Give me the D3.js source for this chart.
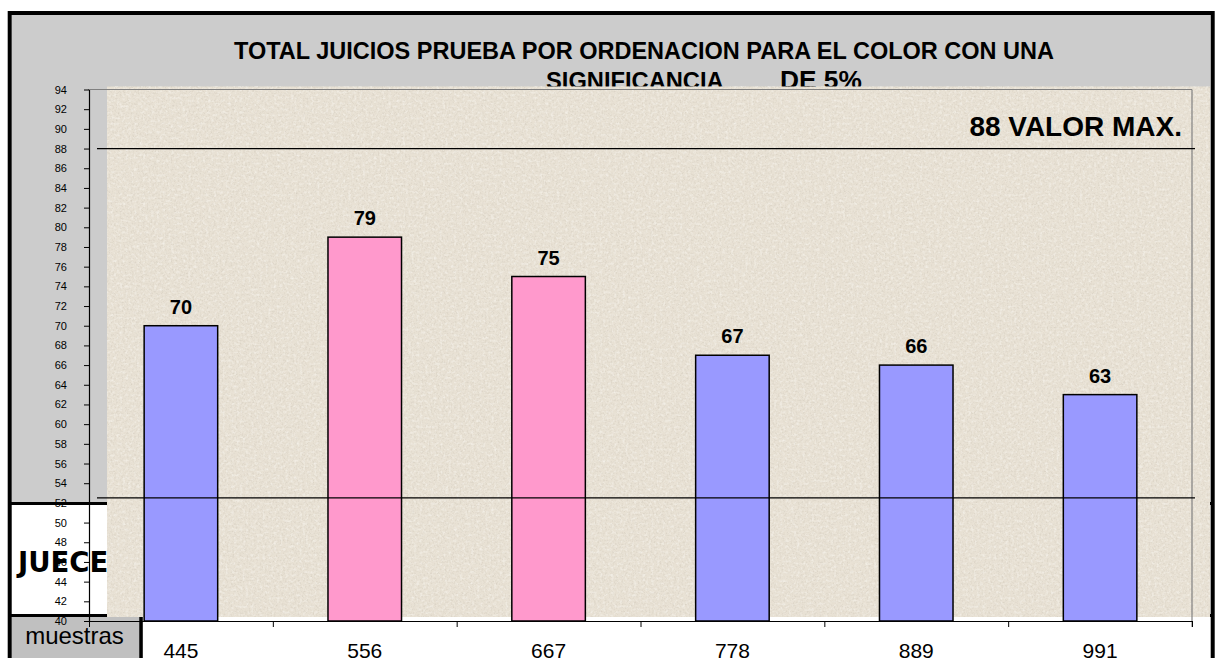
<!DOCTYPE html>
<html>
<head>
<meta charset="utf-8">
<script src="https://cdn.jsdelivr.net/npm/d3@7"></script>
<style>
  html, body { margin: 0; padding: 0; background: #ffffff; }
  svg { display: block; }
</style>
</head>
<body>
<svg id="chart" width="1218" height="658"></svg>
<script>
// ---- data ----
const categorias = ["445", "556", "667", "778", "889", "991"];
const valores = [70, 79, 75, 67, 66, 63];
const grupos = ["a", "b", "b", "a", "a", "a"];
const yTicks = d3.range(40, 95, 2);
const valorMax = 88;
const valorMin = 52.5;
const tituloL1 = "TOTAL JUICIOS PRUEBA POR ORDENACION PARA EL COLOR CON UNA";
const tituloL2a = "SIGNIFICANCIA";
const tituloL2b = "DE 5%";
const etiquetaMax = "88 VALOR MAX.";
const etiquetaJueces = "JUECES";
const etiquetaMuestras = "muestras";

const svg = d3.select("#chart");
const FONT = "'Liberation Sans', Arial, sans-serif";

// textures
const defs = svg.append("defs");
const fDark = defs.append("filter").attr("id", "noiseDark").attr("x", 0).attr("y", 0).attr("width", 1).attr("height", 1);
fDark.append("feTurbulence").attr("type", "fractalNoise").attr("baseFrequency", 0.55).attr("numOctaves", 3).attr("seed", 3).attr("result", "n");
fDark.append("feColorMatrix").attr("in", "n").attr("type", "matrix")
  .attr("values", "0 0 0 0 0.55  0 0 0 0 0.5  0 0 0 0 0.42  1.6 0 0 0 -0.75");
const fLight = defs.append("filter").attr("id", "noiseLight").attr("x", 0).attr("y", 0).attr("width", 1).attr("height", 1);
fLight.append("feTurbulence").attr("type", "fractalNoise").attr("baseFrequency", 0.35).attr("numOctaves", 2).attr("seed", 11).attr("result", "n");
fLight.append("feColorMatrix").attr("in", "n").attr("type", "matrix")
  .attr("values", "0 0 0 0 1  0 0 0 0 1  0 0 0 0 0.98  1.8 0 0 0 -0.85");

// ---- frame ----
svg.append("rect").attr("x", 11.7).attr("y", 15).attr("width", 1198.6).attr("height", 660).attr("fill", "#cccccc");
// white judges cell
svg.append("rect").attr("x", 11.7).attr("y", 505).attr("width", 200).attr("height", 109).attr("fill", "#ffffff");
// muestras cell
svg.append("rect").attr("x", 11.7).attr("y", 617).attr("width", 127.5).attr("height", 50).attr("fill", "#c0c0c0");
svg.append("rect").attr("x", 143).attr("y", 617).attr("width", 1070).attr("height", 50).attr("fill", "#ffffff");
// table lines
svg.append("line").attr("x1", 11).attr("x2", 1212).attr("y1", 503.5).attr("y2", 503.5).attr("stroke", "#000").attr("stroke-width", 3);
svg.append("line").attr("x1", 11).attr("x2", 1212).attr("y1", 615.5).attr("y2", 615.5).attr("stroke", "#000").attr("stroke-width", 3);
svg.append("line").attr("x1", 141).attr("x2", 141).attr("y1", 615).attr("y2", 660).attr("stroke", "#000").attr("stroke-width", 3.5);
// outer border
svg.append("rect").attr("x", 9.7).attr("y", 13).attr("width", 1203).attr("height", 700)
  .attr("fill", "none").attr("stroke", "#000").attr("stroke-width", 4);

// JUECES label (partly hidden by plot)
svg.append("text").attr("x", 18).attr("y", 572).attr("font-family", "'DejaVu Sans', sans-serif")
  .attr("font-weight", "bold").attr("font-size", 27.5).attr("fill", "#000").text(etiquetaJueces);

// title
svg.append("text").attr("x", 644).attr("y", 58.5).attr("text-anchor", "middle")
  .attr("font-family", FONT).attr("font-weight", "bold").attr("font-size", 23.5).attr("fill", "#000").text(tituloL1);
svg.append("text").attr("x", 546).attr("y", 88.5)
  .attr("font-family", FONT).attr("font-weight", "bold").attr("font-size", 23.7).attr("fill", "#000").text(tituloL2a);
svg.append("text").attr("x", 780).attr("y", 89)
  .attr("font-family", FONT).attr("font-weight", "bold").attr("font-size", 26.3).attr("fill", "#000").text(tituloL2b);

// plot background
const bg = { x: 107, y: 86.5, w: 1103, h: 530.5 };
svg.append("rect").attr("x", bg.x).attr("y", bg.y).attr("width", bg.w).attr("height", bg.h).attr("fill", "#e8e1d4");
svg.append("rect").attr("x", bg.x).attr("y", bg.y).attr("width", bg.w).attr("height", bg.h).attr("filter", "url(#noiseDark)").attr("opacity", 0.55);
svg.append("rect").attr("x", bg.x).attr("y", bg.y).attr("width", bg.w).attr("height", bg.h).attr("filter", "url(#noiseLight)").attr("opacity", 0.6);
// white strip below plot
svg.append("rect").attr("x", 143).attr("y", 617).attr("width", 1067).attr("height", 4).attr("fill", "#ffffff");

// ---- scales ----
const x0 = 89, x1 = 1192;
const y = d3.scaleLinear().domain([40, 94]).range([621, 89.5]);
const x = d3.scaleBand().domain(categorias).range([x0, x1]).paddingInner(0.6).paddingOuter(0.3);
const xEdges = d3.scaleLinear().domain([0, categorias.length]).range([x0, x1]);
const color = d3.scaleOrdinal().domain(["a", "b"]).range(["#9999ff", "#ff99cc"]);

// plot border (top and right)
svg.append("line").attr("x1", x0 - 1).attr("x2", x1).attr("y1", y(94)).attr("y2", y(94)).attr("stroke", "#808080").attr("stroke-width", 1.2);
svg.append("line").attr("x1", x1).attr("x2", x1).attr("y1", y(94)).attr("y2", y(40) + 6).attr("stroke", "#808080").attr("stroke-width", 1.2);

// bars
svg.append("g").selectAll("rect").data(categorias).join("rect")
  .attr("x", d => x(d))
  .attr("y", (d, i) => y(valores[i]))
  .attr("width", x.bandwidth())
  .attr("height", (d, i) => y(40) - y(valores[i]))
  .attr("fill", (d, i) => color(grupos[i]))
  .attr("stroke", "#000").attr("stroke-width", 1.5);

// reference lines
[valorMax, valorMin].forEach(v => {
  svg.append("line").attr("x1", 97).attr("x2", 1195).attr("y1", y(v)).attr("y2", y(v))
    .attr("stroke", "#000").attr("stroke-width", 1.2);
});

// value labels
svg.append("g").selectAll("text").data(categorias).join("text")
  .attr("x", d => x(d) + x.bandwidth() / 2)
  .attr("y", (d, i) => y(valores[i]) - 12)
  .attr("text-anchor", "middle")
  .attr("font-family", FONT).attr("font-weight", "bold").attr("font-size", 20).attr("fill", "#000")
  .text((d, i) => valores[i]);

// max label
svg.append("text").attr("x", 1182).attr("y", 136).attr("text-anchor", "end")
  .attr("font-family", FONT).attr("font-weight", "bold").attr("font-size", 28).attr("fill", "#000").text(etiquetaMax);

// y axis
const yAxis = svg.append("g").attr("transform", `translate(${x0},0)`)
  .call(d3.axisLeft(y).tickValues(yTicks).tickSize(5).tickSizeOuter(0).tickPadding(17));
yAxis.select(".domain").attr("stroke", "#000").attr("stroke-width", 1.2);
yAxis.selectAll(".tick line").attr("stroke", "#000");
yAxis.selectAll(".tick text").attr("font-family", FONT).attr("font-size", 11).attr("fill", "#000");

// x axis edges ticks
const xTicksG = svg.append("g").attr("transform", `translate(0,${y(40)})`)
  .call(d3.axisBottom(xEdges).tickValues(d3.range(0, categorias.length + 1)).tickSize(6).tickSizeOuter(0).tickFormat(""));
xTicksG.select(".domain").attr("stroke", "#000").attr("stroke-width", 1.2);
xTicksG.selectAll(".tick line").attr("stroke", "#000");

// x labels
const xLab = svg.append("g").attr("transform", `translate(0,${y(40)})`)
  .call(d3.axisBottom(x).tickSize(0).tickPadding(22));
xLab.select(".domain").remove();
xLab.selectAll(".tick text").attr("font-family", FONT).attr("font-size", 21).attr("fill", "#000");

// muestras label
svg.append("text").attr("x", 74.5).attr("y", 643.5).attr("text-anchor", "middle")
  .attr("font-family", FONT).attr("font-size", 24).attr("fill", "#000").text(etiquetaMuestras);
</script>
</body>
</html>
